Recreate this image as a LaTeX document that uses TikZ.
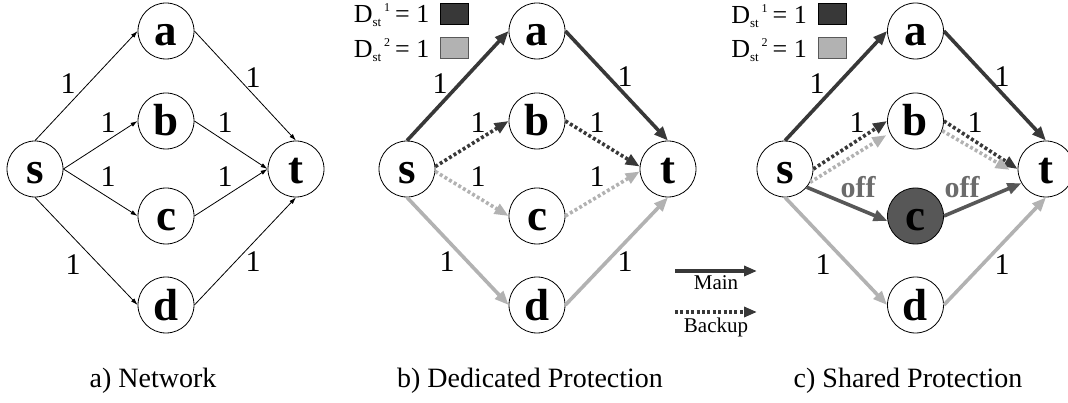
\documentclass[tikz,border=0pt]{standalone}
\usepackage{fontspec}
\setmainfont{Liberation Serif}
\usepackage{amsmath}
\usetikzlibrary{arrows.meta}
\usetikzlibrary{positioning}
\definecolor{demandone}{gray}{0.22}
\definecolor{demandtwo}{gray}{0.70}
\definecolor{offline}{gray}{0.34}
\definecolor{offtext}{gray}{0.42}
\tikzstyle{link} = [line width=0.8pt,-{Latex[length=7pt,width=4.5pt]}]
\tikzstyle{main path} = [line width=3.6pt,-{Triangle[length=14pt,width=11pt]}]
\tikzstyle{backup path} = [line width=3.6pt,dash pattern=on 3pt off 2.4pt,-{Triangle[length=14pt,width=11pt]}]
\newcommand{\demandlabel}[1]{D\raisebox{-4pt}{\fontsize{13}{13}\selectfont st}\kern3pt\raisebox{11pt}{\fontsize{12}{12}\selectfont #1}\kern5pt= 1}

\begin{document}
\begin{tikzpicture}[x=1pt,y=-1pt,on grid,
      net node/.style={circle,draw,fill=white,line width=0.8pt,minimum size=56pt,inner sep=0pt,
        text height=30pt,text depth=0pt,font=\fontsize{45}{45}\selectfont\bfseries},
      weight/.style={font=\fontsize{30}{30}\selectfont,inner sep=0pt},
      off label/.style={font=\fontsize{30}{30}\selectfont\bfseries,text=offtext,inner sep=0pt},
      caption/.style={font=\fontsize{28}{28}\selectfont,anchor=base,inner sep=0pt},
      key box/.style={draw,line width=0.8pt,minimum width=28pt,minimum height=21pt,inner sep=0pt},
      key text/.style={font=\fontsize{26}{26}\selectfont,anchor=base east,inner sep=0pt},
      legend text/.style={font=\fontsize{21}{21}\selectfont,anchor=base,inner sep=0pt}]
  \useasboundingbox (0,0) rectangle (1068,403);

  % a) network
  \node[net node] (s1) at (35,169) {s};
  \node[net node] (a1) [above right=138pt and 131pt of s1] {a};
  \node[net node] (b1) [above right=48pt and 131pt of s1] {b};
  \node[net node] (c1) [below right=47pt and 131pt of s1] {c};
  \node[net node] (d1) [below right=136pt and 131pt of s1] {d};
  \node[net node] (t1) [right=261pt of s1] {t};

  \draw[link] (s1.north) -- (a1.west);
  \draw[link] (a1.east) -- (t1.north);
  \foreach \m in {b,c}{\draw[link] (s1.east) -- (\m1.west);}
  \foreach \m in {b,c}{\draw[link] (\m1.east) -- (t1.west);}
  \draw[link] (s1.south) -- (d1.west);
  \draw[link] (d1.east) -- (t1.south);

  \node[weight] (w1sa) at (68,84) {1};
  \node[weight] (w1at) at (253,78) {1};
  \node[weight] (w1sb) at (108,123) {1};
  \node[weight] (w1bt) at (225,123) {1};
  \node[weight] (w1sc) at (108,177) {1};
  \node[weight] (w1ct) at (225,177) {1};
  \node[weight] (w1sd) at (73,265) {1};
  \node[weight] (w1dt) at (253,262) {1};
  \node[caption] (cap1) at (153,387) {a) Network};

  % b) dedicated protection
  \node[net node] (s2) at (407,169) {s};
  \node[net node] (a2) [above right=138pt and 130pt of s2] {a};
  \node[net node] (b2) [above right=48pt and 130pt of s2] {b};
  \node[net node] (c2) [below right=47pt and 130pt of s2] {c};
  \node[net node] (d2) [below right=136pt and 130pt of s2] {d};
  \node[net node] (t2) [right=261pt of s2] {t};

  \draw[main path,demandone] (s2.north) -- (a2.west);
  \draw[main path,demandone] (a2.east) -- (t2.north);
  \draw[backup path,demandone] (s2.5) -- (b2.west);
  \draw[backup path,demandone] (b2.east) -- (t2.175);
  \draw[backup path,demandtwo] (s2.-5) -- (c2.west);
  \draw[backup path,demandtwo] (c2.east) -- (t2.185);
  \draw[main path,demandtwo] (s2.south) -- (d2.west);
  \draw[main path,demandtwo] (d2.east) -- (t2.south);

  \node[weight] (w2sa) at (440,84) {1};
  \node[weight] (w2at) at (625,77) {1};
  \node[weight] (w2sb) at (478,123) {1};
  \node[weight] (w2bt) at (597,123) {1};
  \node[weight] (w2sc) at (478,177) {1};
  \node[weight] (w2ct) at (597,177) {1};
  \node[weight] (w2sd) at (447,262) {1};
  \node[weight] (w2dt) at (625,262) {1};

  \node[key box,fill=demandone] (key2one) at (454,13.5) {};
  \node[key box,fill=demandtwo,draw=gray!70!black] (key2two) at (454,48) {};
  \node[key text] (lab2one) at ([xshift=-10pt,yshift=-9.5pt]key2one.west) {\demandlabel{1}};
  \node[key text] (lab2two) at ([xshift=-10pt,yshift=-10pt]key2two.west) {\demandlabel{2}};
  \node[caption] (cap2) at (530,387) {b) Dedicated Protection};

  % legend
  \coordinate (mainL) at (675,271);
  \coordinate (mainR) at (757,271);
  \coordinate (backL) at (675,312);
  \coordinate (backR) at (757,312);
  \draw[line width=3.6pt,demandone,-{Triangle[length=13pt,width=10pt]}] (mainL) -- (mainR);
  \draw[line width=3.6pt,demandone,dash pattern=on 3pt off 2.4pt,-{Triangle[length=13pt,width=10pt]}] (backL) -- (backR);
  \node[legend text] (mainkey) at (716,290) {Main};
  \node[legend text] (backkey) at (716,332) {Backup};

  % c) shared protection
  \node[net node] (s3) at (785,169) {s};
  \node[net node] (a3) [above right=138pt and 130.5pt of s3] {a};
  \node[net node] (b3) [above right=48pt and 130.5pt of s3] {b};
  \node[net node,fill=offline] (c3) [below right=47pt and 130.5pt of s3] {c};
  \node[net node] (d3) [below right=136pt and 130.5pt of s3] {d};
  \node[net node] (t3) [right=261pt of s3] {t};

  \draw[main path,demandone] (s3.north) -- (a3.west);
  \draw[main path,demandone] (a3.east) -- (t3.north);
  \draw[backup path,demandone] (s3.east) -- (b3.west);
  \draw[backup path,demandone] (b3.east) -- (t3.west);
  \draw[backup path,demandtwo,shorten >=4pt] (s3.-28) -- (b3.205);
  \draw[backup path,demandtwo,shorten >=10pt] (b3.-20) -- (t3.192);
  \draw[main path,offline] (s3.-40) -- (c3.190);
  \draw[main path,offline] (c3.east) -- (t3.210);
  \draw[main path,demandtwo] (s3.south) -- (d3.west);
  \draw[main path,demandtwo] (d3.east) -- (t3.south);

  \node[weight] (w3sa) at (817,84) {1};
  \node[weight] (w3at) at (1002,77) {1};
  \node[weight] (w3sb) at (857,123) {1};
  \node[weight] (w3bt) at (975,123) {1};
  \node[off label] (off3sc) at (858,187) {off};
  \node[off label] (off3ct) at (962,187) {off};
  \node[weight] (w3sd) at (823,265) {1};
  \node[weight] (w3dt) at (1002,265) {1};

  \node[key box,fill=demandone] (key3one) at (832.5,14) {};
  \node[key box,fill=demandtwo,draw=gray!70!black] (key3two) at (832.5,48) {};
  \node[key text] (lab3one) at ([xshift=-11pt,yshift=-9.5pt]key3one.west) {\demandlabel{1}};
  \node[key text] (lab3two) at ([xshift=-11pt,yshift=-10pt]key3two.west) {\demandlabel{2}};
  \node[caption] (cap3) at (908,387) {c) Shared Protection};
\end{tikzpicture}
\end{document}
